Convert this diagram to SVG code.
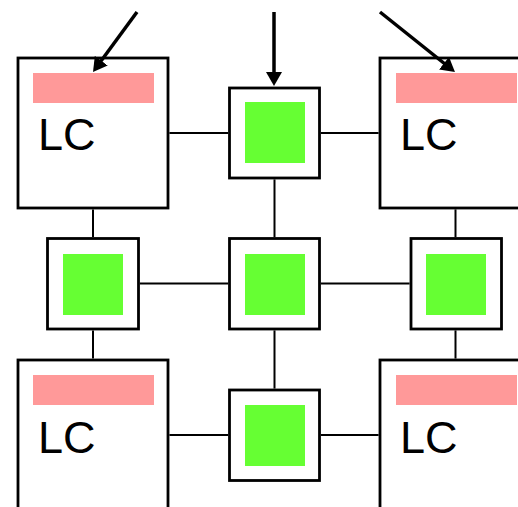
<svg xmlns="http://www.w3.org/2000/svg" width="518" height="507" viewBox="0 0 518 507">
<style>
.lc{fill:#fff;stroke:#000;stroke-width:2.8}
.bar{fill:#ff9999}
.sw{fill:#fff;stroke:#000;stroke-width:2.8}
.core{fill:#66ff33}
.t{font-family:"Liberation Sans",Arial,sans-serif;font-size:45px;fill:#000}
.c{stroke:#000;stroke-width:2;fill:none}
.a{stroke:#000;stroke-width:3.5;fill:none;marker-end:url(#ah)}
</style>
<defs>
<marker id="ah" markerUnits="userSpaceOnUse" markerWidth="14" markerHeight="16" refX="2" refY="8" orient="auto" viewBox="0 0 14 16">
<path d="M0,0 L14,8 L0,16 z" fill="#000"/>
</marker>
</defs>
<rect width="518" height="507" fill="#fff"/>
<g id="lc-tl"><rect class="lc" x="18" y="58" width="150" height="150"/><rect class="bar" x="33" y="73" width="121" height="30"/><text class="t" x="38" y="150">LC</text></g>
<g id="lc-tr"><rect class="lc" x="380" y="58" width="150" height="150"/><rect class="bar" x="396" y="73" width="121" height="30"/><text class="t" x="400" y="150">LC</text></g>
<g id="lc-bl"><rect class="lc" x="18" y="360" width="150" height="150"/><rect class="bar" x="33" y="375" width="121" height="30"/><text class="t" x="38" y="453">LC</text></g>
<g id="lc-br"><rect class="lc" x="380" y="360" width="150" height="150"/><rect class="bar" x="396" y="375" width="121" height="30"/><text class="t" x="400" y="453">LC</text></g>
<g id="sw-top"><rect class="sw" x="229.5" y="88" width="90" height="90"/><rect class="core" x="245" y="102" width="60" height="61"/></g>
<g id="sw-left"><rect class="sw" x="47.5" y="238.5" width="91" height="90.5"/><rect class="core" x="63" y="254" width="60" height="61"/></g>
<g id="sw-mid"><rect class="sw" x="229.5" y="238.5" width="90" height="90.5"/><rect class="core" x="245" y="254" width="60" height="61"/></g>
<g id="sw-right"><rect class="sw" x="411" y="238.5" width="90.5" height="90.5"/><rect class="core" x="426" y="254" width="60" height="61"/></g>
<g id="sw-bot"><rect class="sw" x="229.5" y="390" width="90" height="90.5"/><rect class="core" x="245" y="405" width="60" height="61"/></g>
<g id="connectors">
<line class="c" x1="169.4" y1="133" x2="228.1" y2="133"/>
<line class="c" x1="320.9" y1="133" x2="378.6" y2="133"/>
<line class="c" x1="274.5" y1="179.4" x2="274.5" y2="237.1"/>
<line class="c" x1="93" y1="209.4" x2="93" y2="237.1"/>
<line class="c" x1="455.5" y1="209.4" x2="455.5" y2="237.1"/>
<line class="c" x1="139.9" y1="283.5" x2="228.1" y2="283.5"/>
<line class="c" x1="320.9" y1="283.5" x2="409.6" y2="283.5"/>
<line class="c" x1="93" y1="330.4" x2="93" y2="358.6"/>
<line class="c" x1="455.5" y1="330.4" x2="455.5" y2="358.6"/>
<line class="c" x1="274.5" y1="330.4" x2="274.5" y2="388.6"/>
<line class="c" x1="169.4" y1="435" x2="228.1" y2="435"/>
<line class="c" x1="320.9" y1="435" x2="378.6" y2="435"/>
<line class="a" x1="137" y1="12" x2="100.1" y2="62.3"/>
<line class="a" x1="274" y1="12" x2="274" y2="74"/>
<line class="a" x1="380" y1="12" x2="445.6" y2="64.5"/>
</g>
</svg>
